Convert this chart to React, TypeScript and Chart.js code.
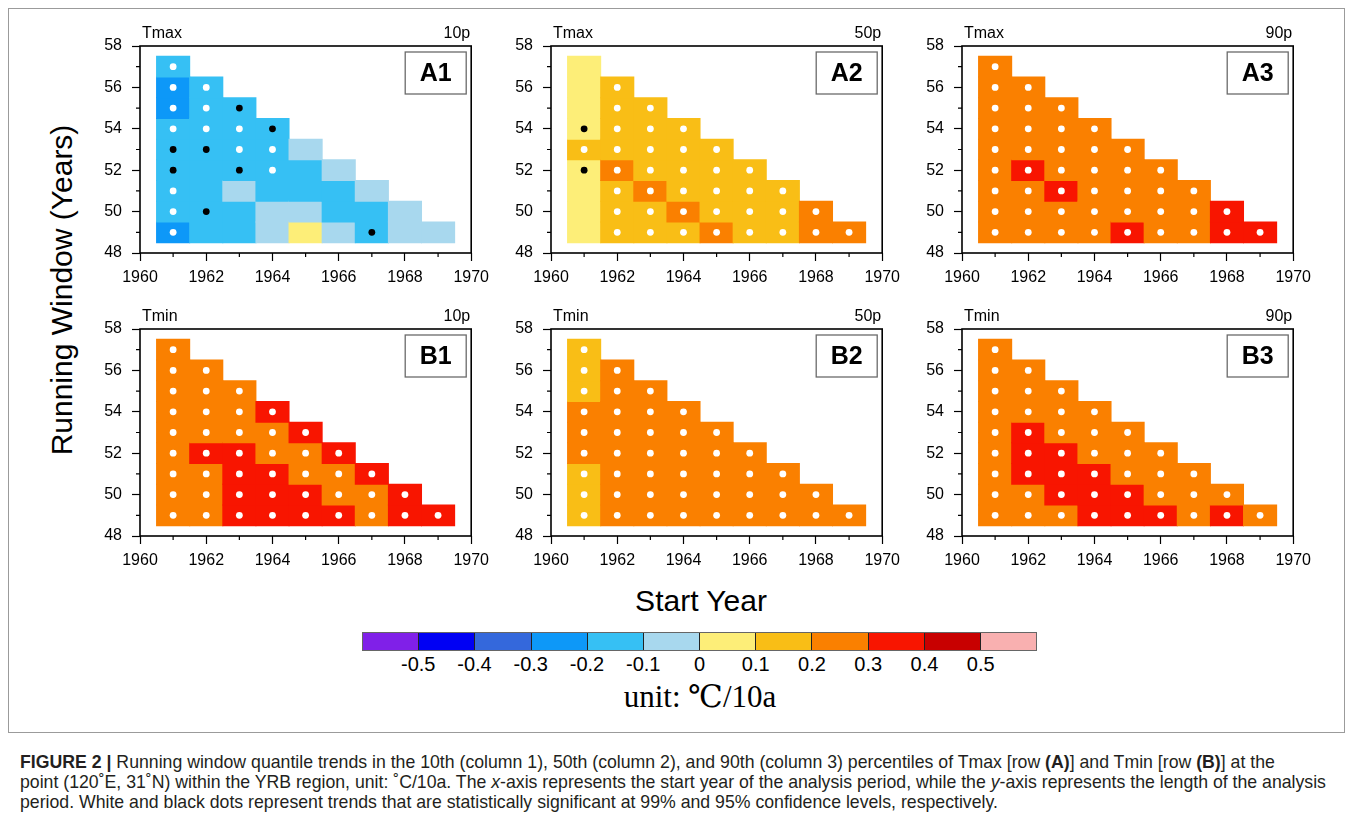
import React, { useEffect, useRef } from "react";
import { Chart, registerables } from "chart.js";
Chart.register(...registerables);

// ---------------- data ----------------
const startYears = [1961, 1962, 1963, 1964, 1965, 1966, 1967, 1968, 1969];
const windowLengths = [49, 50, 51, 52, 53, 54, 55, 56, 57];
const xTickLabels = [1960, 1962, 1964, 1966, 1968, 1970];
const yTickLabels = [48, 50, 52, 54, 56, 58];

// trend values (°C/10a) per start year, listed from the 49-year window upward
const tmax10p = [
  [-0.24, -0.16, -0.15, -0.14, -0.13, -0.15, -0.22, -0.23, -0.17],
  [-0.16, -0.14, -0.13, -0.15, -0.16, -0.17, -0.18, -0.18],
  [-0.13, -0.12, -0.08, -0.14, -0.15, -0.16, -0.17],
  [-0.06, -0.07, -0.11, -0.13, -0.14, -0.15],
  [0.03, -0.04, -0.11, -0.12, -0.09],
  [-0.03, -0.12, -0.13, -0.08],
  [-0.14, -0.12, -0.09],
  [-0.07, -0.06],
  [-0.05],
];
const tmax50p = [
  [0.06, 0.07, 0.08, 0.09, 0.12, 0.08, 0.07, 0.06, 0.05],
  [0.18, 0.19, 0.19, 0.21, 0.18, 0.17, 0.16, 0.15],
  [0.18, 0.19, 0.22, 0.19, 0.18, 0.17, 0.16],
  [0.19, 0.21, 0.19, 0.18, 0.17, 0.16],
  [0.22, 0.19, 0.18, 0.17, 0.16],
  [0.19, 0.18, 0.17, 0.16],
  [0.18, 0.17, 0.16],
  [0.21, 0.22],
  [0.23],
];
const tmax90p = [
  [0.27, 0.26, 0.27, 0.28, 0.27, 0.26, 0.25, 0.24, 0.23],
  [0.28, 0.29, 0.29, 0.31, 0.28, 0.27, 0.26, 0.25],
  [0.28, 0.29, 0.31, 0.28, 0.27, 0.26, 0.25],
  [0.29, 0.28, 0.27, 0.27, 0.26, 0.25],
  [0.31, 0.29, 0.28, 0.27, 0.26],
  [0.29, 0.28, 0.27, 0.26],
  [0.29, 0.28, 0.27],
  [0.32, 0.31],
  [0.33],
];
const tmin10p = [
  [0.27, 0.27, 0.28, 0.28, 0.27, 0.26, 0.25, 0.24, 0.23],
  [0.28, 0.29, 0.29, 0.31, 0.29, 0.28, 0.27, 0.26],
  [0.32, 0.32, 0.31, 0.31, 0.29, 0.29, 0.28],
  [0.33, 0.32, 0.31, 0.29, 0.29, 0.31],
  [0.33, 0.31, 0.29, 0.29, 0.31],
  [0.31, 0.29, 0.29, 0.31],
  [0.29, 0.29, 0.31],
  [0.33, 0.32],
  [0.34],
];
const tmin50p = [
  [0.17, 0.18, 0.19, 0.21, 0.21, 0.21, 0.19, 0.18, 0.17],
  [0.26, 0.26, 0.25, 0.25, 0.24, 0.24, 0.23, 0.23],
  [0.26, 0.26, 0.25, 0.25, 0.24, 0.24, 0.23],
  [0.27, 0.26, 0.26, 0.25, 0.24, 0.24],
  [0.27, 0.26, 0.26, 0.25, 0.24],
  [0.27, 0.27, 0.26, 0.25],
  [0.27, 0.27, 0.26],
  [0.28, 0.27],
  [0.28],
];
const tmin90p = [
  [0.27, 0.28, 0.28, 0.28, 0.27, 0.26, 0.25, 0.24, 0.23],
  [0.28, 0.29, 0.31, 0.32, 0.31, 0.28, 0.27, 0.26],
  [0.29, 0.31, 0.32, 0.31, 0.28, 0.27, 0.26],
  [0.32, 0.32, 0.31, 0.29, 0.28, 0.27],
  [0.32, 0.31, 0.29, 0.28, 0.27],
  [0.31, 0.29, 0.28, 0.27],
  [0.29, 0.28, 0.27],
  [0.31, 0.29],
  [0.29],
];

// significance per start year, from 49-year window upward: W = 99 %, B = 95 %, - = none
const tmax10pSig = ["WWWBBWWWW", "-B--BWWW", "---BWWB", "---WWB", "-----", "----", "B--", "--", "-"];
const tmax50pSig = ["---BWB---", "WWWWWWWW", "WWWWWWW", "WWWWWW", "WWWWW", "WWWW", "WWW", "WW", "W"];
const tmax90pSig = ["WWWWWWWWW", "WWWWWWWW", "WWWWWWW", "WWWWWW", "WWWWW", "WWWW", "WWW", "WW", "W"];
const tmin10pSig = ["WWWWWWWWW", "WWWWWWWW", "WWWWWWW", "WWWWWW", "WWWWW", "WWWW", "WWW", "WW", "W"];
const tmin50pSig = ["WWWWWWWWW", "WWWWWWWW", "WWWWWWW", "WWWWWW", "WWWWW", "WWWW", "WWW", "WW", "W"];
const tmin90pSig = ["WWWWWWWWW", "WWWWWWWW", "WWWWWWW", "WWWWWW", "WWWWW", "WWWW", "WWW", "WW", "W"];

// colour scale
const levelBounds = [-0.5, -0.4, -0.3, -0.2, -0.1, 0, 0.1, 0.2, 0.3, 0.4, 0.5];
const levelLabels = ["-0.5", "-0.4", "-0.3", "-0.2", "-0.1", "0", "0.1", "0.2", "0.3", "0.4", "0.5"];
const levelColors = [
  "#8020E8", "#0000F4", "#3468DC", "#0D98F8", "#36C0F4", "#A8D8EE",
  "#FDEE78", "#F9BE16", "#FA8000", "#F81500", "#C80000", "#F9B0B0",
];

// ---------------- layout ----------------
const SANS = '"Liberation Sans", Arial, Helvetica, sans-serif';
const PLOT_W = 334;
const PLOT_H = 207;
const Y_AXIS_W = 50;
const X_AXIS_H = 40;
const PAD_TOP = 30;
const PAD_RIGHT = 22;
const colLefts = [140, 551, 962];
const rowTops = [46, 329];

const panels = [
  { tag: "A1", variable: "Tmax", pct: "10p", values: tmax10p, sig: tmax10pSig, col: 0, row: 0 },
  { tag: "A2", variable: "Tmax", pct: "50p", values: tmax50p, sig: tmax50pSig, col: 1, row: 0 },
  { tag: "A3", variable: "Tmax", pct: "90p", values: tmax90p, sig: tmax90pSig, col: 2, row: 0 },
  { tag: "B1", variable: "Tmin", pct: "10p", values: tmin10p, sig: tmin10pSig, col: 0, row: 1 },
  { tag: "B2", variable: "Tmin", pct: "50p", values: tmin50p, sig: tmin50pSig, col: 1, row: 1 },
  { tag: "B3", variable: "Tmin", pct: "90p", values: tmin90p, sig: tmin90pSig, col: 2, row: 1 },
];

function colorFor(v: number) {
  let idx = 0;
  for (const b of levelBounds) if (v >= b) idx++;
  return levelColors[idx];
}

type PanelCfg = (typeof panels)[number];

function Panel({ cfg }: { cfg: PanelCfg }) {
  const ref = useRef<HTMLCanvasElement>(null);
  const W = Y_AXIS_W + PLOT_W + PAD_RIGHT;
  const H = PAD_TOP + PLOT_H + X_AXIS_H;
  const left = colLefts[cfg.col] - Y_AXIS_W;
  const top = rowTops[cfg.row] - PAD_TOP;

  useEffect(() => {
    const cells: { x: number; w: number; v: number; s: string }[] = [];
    startYears.forEach((yr, i) => {
      cfg.values[i].forEach((v, j) => {
        cells.push({ x: yr, w: windowLengths[j], v, s: cfg.sig[i][j] });
      });
    });
    const dots = cells.filter((c) => c.s === "W" || c.s === "B");

    const decor = {
      id: "decor",
      afterDraw(chart: any) {
        const { ctx, chartArea: a, scales } = chart;
        const xs = scales.x;
        const ys = scales.y;
        ctx.save();
        ctx.strokeStyle = "#000";
        ctx.lineWidth = 1.2;
        ctx.beginPath();
        xs.ticks.forEach((t: any) => {
          if (!xTickLabels.includes(t.value)) {
            const px = xs.getPixelForValue(t.value);
            ctx.moveTo(px, a.bottom);
            ctx.lineTo(px, a.bottom + 4);
          }
        });
        ys.ticks.forEach((t: any) => {
          if (!yTickLabels.includes(t.value)) {
            const py = ys.getPixelForValue(t.value);
            ctx.moveTo(a.left - 4, py);
            ctx.lineTo(a.left, py);
          }
        });
        ctx.stroke();
        ctx.lineWidth = 1.6;
        ctx.strokeRect(a.left, a.top, a.right - a.left, a.bottom - a.top);
        ctx.fillStyle = "#000";
        ctx.font = `16px ${SANS}`;
        ctx.textBaseline = "middle";
        ctx.textAlign = "left";
        ctx.fillText(cfg.variable, a.left + 2, a.top - 12);
        ctx.textAlign = "right";
        ctx.fillText(cfg.pct, a.right - 1, a.top - 12);
        const bw = 61;
        const bh = 42;
        const bx = a.right - 5 - bw;
        const by = a.top + 6;
        ctx.fillStyle = "#fff";
        ctx.fillRect(bx, by, bw, bh);
        ctx.strokeStyle = "#6a6a6a";
        ctx.lineWidth = 1.3;
        ctx.strokeRect(bx, by, bw, bh);
        ctx.fillStyle = "#000";
        ctx.font = `bold 25px ${SANS}`;
        ctx.textAlign = "center";
        ctx.fillText(cfg.tag, bx + bw / 2, by + bh / 2 + 1);
        ctx.restore();
      },
    };

    const gridOpts = {
      display: true,
      drawOnChartArea: false,
      drawTicks: true,
      tickLength: 8,
      tickWidth: 1.2,
      offset: false,
    };

    const chart = new Chart(ref.current as HTMLCanvasElement, {
      type: "bar",
      data: {
        datasets: [
          {
            type: "scatter",
            order: 0,
            data: dots.map((d) => ({ x: d.x, y: d.w })),
            pointBackgroundColor: dots.map((d) => (d.s === "W" ? "#ffffff" : "#000000")),
            pointBorderWidth: 0,
            pointRadius: 3.4,
          } as any,
          {
            type: "bar",
            order: 1,
            data: cells.map((c) => ({ x: c.x, y: [c.w - 0.5, c.w + 0.5] })),
            backgroundColor: cells.map((c) => colorFor(c.v)),
            borderWidth: 0,
            barPercentage: 1,
            categoryPercentage: 1,
            inflateAmount: 0.5,
            grouped: false,
          } as any,
        ],
      },
      options: {
        animation: false,
        responsive: false,
        events: [],
        layout: { padding: { top: PAD_TOP, right: PAD_RIGHT, left: 0, bottom: 0 } },
        plugins: { legend: { display: false }, tooltip: { enabled: false }, title: { display: false } },
        scales: {
          x: {
            type: "linear",
            min: 1960,
            max: 1970,
            offset: false,
            grid: {
              ...gridOpts,
              tickColor: (ctx: any) => (ctx.tick && xTickLabels.includes(ctx.tick.value) ? "#000" : "rgba(0,0,0,0)"),
            },
            border: { display: false },
            ticks: {
              stepSize: 1,
              autoSkip: false,
              maxRotation: 0,
              padding: 7,
              color: "#000",
              font: { family: SANS, size: 16 },
              callback: (v: any) => (xTickLabels.includes(Number(v)) ? String(v) : ""),
            },
            afterFit: (s: any) => {
              s.height = X_AXIS_H;
            },
          },
          y: {
            type: "linear",
            min: 48,
            max: 58,
            grid: {
              ...gridOpts,
              tickColor: (ctx: any) => (ctx.tick && yTickLabels.includes(ctx.tick.value) ? "#000" : "rgba(0,0,0,0)"),
            },
            border: { display: false },
            ticks: {
              stepSize: 1,
              autoSkip: false,
              padding: 10,
              color: "#000",
              font: { family: SANS, size: 16 },
              callback: (v: any) => (yTickLabels.includes(Number(v)) ? String(v) : ""),
            },
            afterFit: (s: any) => {
              s.width = Y_AXIS_W;
            },
          },
        },
      } as any,
      plugins: [decor],
    });
    return () => chart.destroy();
  }, []);

  return (
    <canvas
      ref={ref}
      width={W}
      height={H}
      style={{ position: "absolute", left, top, width: W, height: H }}
    />
  );
}

const CB_LEFT = 362;
const CB_TOP = 632;
const CB_W = 675;
const CB_H = 19;

function ColorBar() {
  const cw = CB_W / levelColors.length;
  return (
    <>
      <div
        style={{
          position: "absolute",
          left: CB_LEFT,
          top: CB_TOP,
          width: CB_W,
          height: CB_H,
          border: "1px solid #666",
          boxSizing: "border-box",
          display: "flex",
        }}
      >
        {levelColors.map((c, i) => (
          <div
            key={i}
            style={{
              flex: "1 1 0",
              background: c,
              borderRight: i < levelColors.length - 1 ? "1px solid #222" : "none",
            }}
          />
        ))}
      </div>
      {levelLabels.map((l, i) => (
        <div
          key={l}
          style={{
            position: "absolute",
            left: CB_LEFT + cw * (i + 1),
            top: 664,
            transform: "translate(-50%, -50%)",
            fontFamily: SANS,
            fontSize: 20,
            color: "#000",
            whiteSpace: "nowrap",
          }}
        >
          {l}
        </div>
      ))}
    </>
  );
}

const CAP_FONT = '"Liberation Sans Narrow", "Arial Narrow", "Liberation Sans", Arial, sans-serif';

export default function App() {
  return (
    <div
      style={{
        position: "absolute",
        left: 0,
        top: 0,
        width: 1354,
        height: 822,
        background: "#fff",
        overflow: "hidden",
        fontFamily: SANS,
      }}
    >
      <div
        style={{
          position: "absolute",
          left: 8,
          top: 8,
          width: 1337,
          height: 725,
          border: "1px solid #9b9b9b",
          boxSizing: "border-box",
        }}
      />
      {panels.map((p) => (
        <Panel key={p.tag} cfg={p} />
      ))}
      <div
        style={{
          position: "absolute",
          left: 62,
          top: 290,
          transform: "translate(-50%, -50%) rotate(-90deg)",
          fontSize: 30,
          whiteSpace: "nowrap",
          color: "#000",
        }}
      >
        Running Window (Years)
      </div>
      <div
        style={{
          position: "absolute",
          left: 701,
          top: 601,
          transform: "translate(-50%, -50%)",
          fontSize: 30,
          whiteSpace: "nowrap",
          color: "#000",
        }}
      >
        Start Year
      </div>
      <ColorBar />
      <div
        style={{
          position: "absolute",
          left: 700,
          top: 696,
          transform: "translate(-50%, -50%)",
          fontFamily: '"Liberation Serif", "DejaVu Serif", serif',
          fontSize: 31,
          whiteSpace: "nowrap",
          color: "#000",
        }}
      >
        unit: ℃/10a
      </div>
      <div
        style={{
          position: "absolute",
          left: 20,
          top: 752,
          fontFamily: CAP_FONT,
          fontSize: 17.7,
          lineHeight: "20px",
          color: "#231f20",
          whiteSpace: "nowrap",
        }}
      >
        <div>
          <b>FIGURE 2 |</b> Running window quantile trends in the 10th (column 1), 50th (column 2), and 90th (column 3)
          percentiles of Tmax [row <b>(A)</b>] and Tmin [row <b>(B)</b>] at the
        </div>
        <div>
          point (120˚E, 31˚N) within the YRB region, unit: ˚C/10a. The <i>x</i>-axis represents the start year of the
          analysis period, while the <i>y</i>-axis represents the length of the analysis
        </div>
        <div>
          period. White and black dots represent trends that are statistically significant at 99% and 95% confidence
          levels, respectively.
        </div>
      </div>
    </div>
  );
}
